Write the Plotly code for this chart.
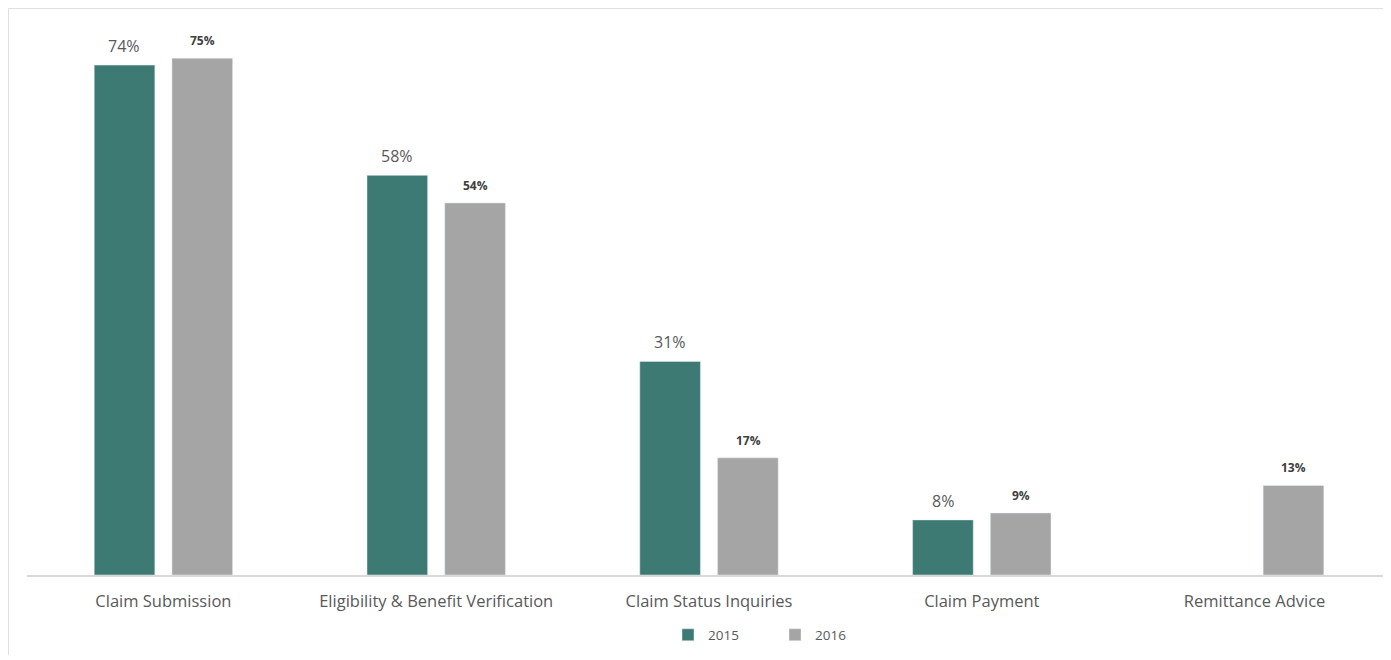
import plotly.graph_objects as go

categories = ["Claim Submission", "Eligibility & Benefit Verification", "Claim Status Inquiries",
              "Claim Payment", "Remittance Advice"]
values_2015 = [74, 58, 31, 8, None]
values_2016 = [75, 54, 17, 9, 13]
series_names = ["2015", "2016"]

# page body has an 8px margin; figure sized to fit inside the window
W, H = 1383, 652
L, R, T, B = 19, 0, 2, 85
pw, ph = W - L - R, H - T - B

fig = go.Figure()
fig.add_trace(go.Bar(name=series_names[0], x=categories, y=values_2015,
                     marker=dict(color="#3D7A74")))
fig.add_trace(go.Bar(name=series_names[1], x=categories, y=values_2016,
                     marker=dict(color="#A5A5A5")))

annotations = []
for c, v in zip(categories, values_2015):
    if v is not None:
        annotations.append(dict(x=c, y=v, xref="x", yref="y", text=f"{v}%", showarrow=False,
                                xshift=-39, yshift=6, yanchor="bottom",
                                font=dict(family="Open Sans", size=16, color="#595959")))
for c, v in zip(categories, values_2016):
    if v is not None:
        annotations.append(dict(x=c, y=v, xref="x", yref="y", text=f"<b>{v}%</b>", showarrow=False,
                                xshift=39, yshift=7, yanchor="bottom",
                                font=dict(family="Open Sans", size=12, color="#404040")))

fig.update_layout(
    width=W, height=H,
    margin=dict(l=L, r=R, t=T, b=B),
    paper_bgcolor="white", plot_bgcolor="white",
    barmode="group", bargap=0.43, bargroupgap=0.22,
    font=dict(family="Open Sans", color="#595959"),
    showlegend=True,
    legend=dict(orientation="h", x=(660 - L) / pw, xanchor="left", y=(567 - 627) / ph, yanchor="middle",
                font=dict(size=13.5, color="#595959"), itemwidth=30, entrywidth=62,
                traceorder="normal"),
    xaxis=dict(showline=True, linecolor="#D9D9D9", linewidth=1.5, ticks="",
               tickfont=dict(size=16.5, color="#595959"), ticklabelstandoff=10, showgrid=False),
    yaxis=dict(range=[0, 82], visible=False, showgrid=False, zeroline=False),
    annotations=annotations,
    shapes=[
        dict(type="line", xref="paper", yref="paper", x0=(0.5 - L) / pw, x1=1.0, y0=1 + (T - 0.5) / ph,
             y1=1 + (T - 0.5) / ph, line=dict(color="#E0E0E0", width=1)),
        dict(type="line", xref="paper", yref="paper", x0=(0.5 - L) / pw, x1=(0.5 - L) / pw,
             y0=1 + (T - 0.5) / ph, y1=(567 - 647) / ph, line=dict(color="#E0E0E0", width=1)),
    ],
)

fig.write_html("out.html")
